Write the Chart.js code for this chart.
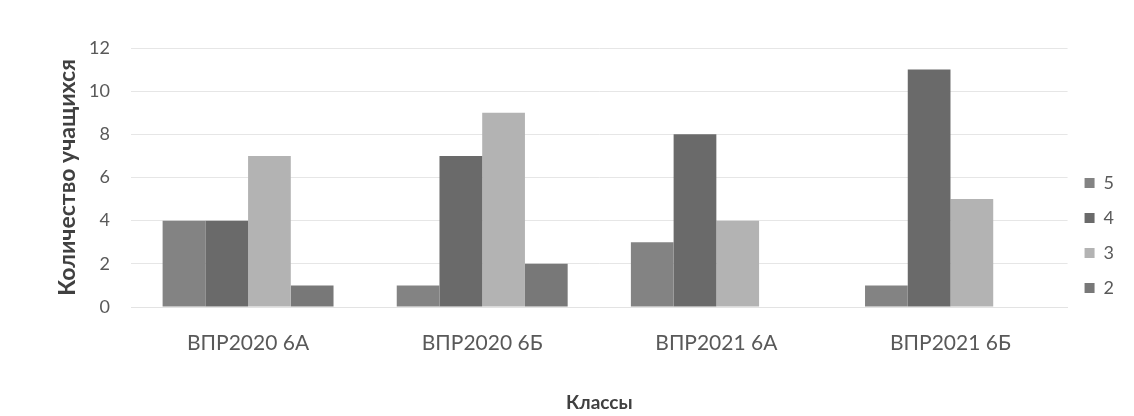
<!DOCTYPE html>
<html>
<head>
<meta charset="utf-8">
<script src="https://cdn.jsdelivr.net/npm/chart.js@4"></script>
<style>
  html, body { margin: 0; padding: 0; background: #fff; overflow: hidden; }
  #wrap { width: 1124px; height: 416px; }
</style>
</head>
<body>
<div id="wrap"><canvas id="barChart"></canvas></div>
<script>
const classes = ['ВПР2020 6А', 'ВПР2020 6Б', 'ВПР2021 6А', 'ВПР2021 6Б']
const grades = ['5', '4', '3', '2']
const grade5 = [4, 1, 3, 1]
const grade4 = [4, 7, 8, 11]
const grade3 = [7, 9, 4, 5]
const grade2 = [1, 2, 0, 0]
const gradeColors = ['#838383', '#6a6a6a', '#b3b3b3', '#787878']

const font = 'Lato, "Open Sans", sans-serif'

new Chart('barChart', {
    type: 'bar',
    data: {
        labels: classes,
        datasets: [grade5, grade4, grade3, grade2].map((values, i) => ({
            label: grades[i],
            data: values,
            backgroundColor: gradeColors[i],
            categoryPercentage: 0.73,
            barPercentage: 1
        }))
    },
    options: {
        responsive: true,
        maintainAspectRatio: false,
        animation: false,
        layout: {
            padding: { left: 54, top: 48, right: 0, bottom: 2 }
        },
        plugins: {
            legend: {
                display: true,
                position: 'right',
                title: { display: true, text: '', padding: 4, font: { size: 1 } },
                labels: {
                    boxWidth: 10,
                    boxHeight: 10,
                    padding: 17,
                    color: '#595959',
                    font: { family: font, size: 18 }
                }
            },
            tooltip: { enabled: false }
        },
        scales: {
            x: {
                afterFit: scale => { scale.height = 107 },
                grid: { display: false, drawTicks: false },
                border: { color: '#e3e3e3' },
                ticks: {
                    color: '#595959',
                    padding: 24,
                    font: { family: font, size: 21 }
                },
                title: {
                    display: true,
                    text: 'Классы',
                    color: '#404040',
                    padding: { top: 0, bottom: 0 },
                    font: { family: font, size: 19, weight: 'bold' }
                }
            },
            y: {
                afterFit: scale => { scale.width = 77 },
                min: 0,
                max: 12,
                ticks: {
                    stepSize: 2,
                    color: '#595959',
                    padding: 21,
                    font: { family: font, size: 18 }
                },
                grid: { color: '#e6e6e6', drawTicks: false },
                border: { display: false },
                title: {
                    display: true,
                    text: 'Количество учащихся',
                    color: '#404040',
                    padding: { top: 0, bottom: 0 },
                    font: { family: font, size: 23, weight: 'bold' }
                }
            }
        }
    }
});
</script>
</body>
</html>
